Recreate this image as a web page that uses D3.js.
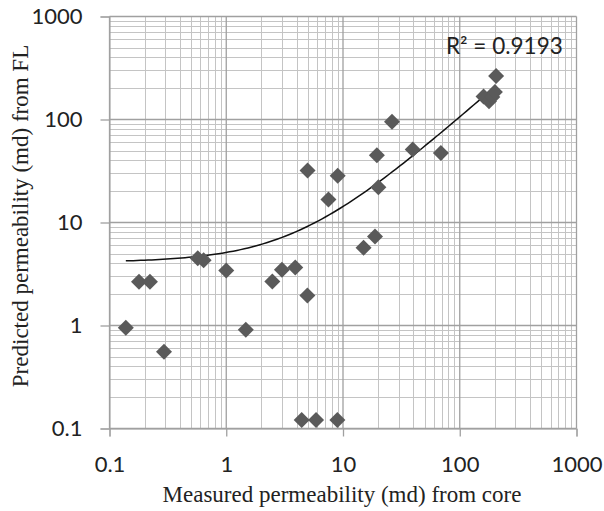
<!DOCTYPE html>
<html>
<head>
<meta charset="utf-8">
<script src="https://cdn.jsdelivr.net/npm/d3@7"></script>
<style>
  body { margin: 0; background: #fff; }
  .tick text { font-family: Lato, "Open Sans", sans-serif; font-size: 22px; fill: #222; }
  .title { font-family: "Liberation Serif", serif; font-size: 23px; fill: #222; }
</style>
</head>
<body>
<svg id="chart" width="604" height="511"></svg>
<script>
// measured (core) vs predicted (FL) permeability, md
var measured = [0.138, 0.179, 0.222, 0.293, 0.57, 0.64, 1.0, 1.47, 2.48, 3.0, 3.9, 4.95,
  4.97, 9.0, 7.5, 4.43, 5.88, 8.95, 19.5, 20.1, 18.8, 15.0, 39.6, 26.3, 68.9,
  160, 178, 190, 200, 205];
var predicted = [0.95, 2.66, 2.66, 0.555, 4.5, 4.3, 3.42, 0.91, 2.68, 3.48, 3.66, 1.96,
  32, 28.5, 16.7, 0.121, 0.121, 0.121, 45, 22, 7.3, 5.7, 51, 95, 47.4,
  167, 150, 165, 185, 265];
var tickValues = [0.1, 1, 10, 100, 1000];
// linear trendline: y = 1.02x + 4.1
var trendSlope = 1.02, trendIntercept = 4.1;
var r2Label = "R² = 0.9193";

var svg = d3.select("#chart");
var plotL = 109.5, plotR = 576.5, plotT = 16.5, plotB = 428.5;

var x = d3.scaleLog().domain([0.1, 1000]).range([plotL, plotR]);
var y = d3.scaleLog().domain([0.1, 1000]).range([plotB, plotT]);

// minor grid values 2..9 per decade
var minor = [];
[0.1, 1, 10, 100].forEach(function (d) {
  for (var k = 2; k <= 9; k++) minor.push(d * k);
});

var grid = svg.append("g");
grid.selectAll(".vmin").data(minor).join("line")
  .attr("x1", d => Math.round(x(d)) + 0.5).attr("x2", d => Math.round(x(d)) + 0.5)
  .attr("y1", plotT).attr("y2", plotB)
  .attr("stroke", "#c4c4c4").attr("stroke-width", 1);
grid.selectAll(".hmin").data(minor).join("line")
  .attr("y1", d => Math.round(y(d)) + 0.5).attr("y2", d => Math.round(y(d)) + 0.5)
  .attr("x1", plotL).attr("x2", plotR)
  .attr("stroke", "#c4c4c4").attr("stroke-width", 1);
grid.selectAll(".vmaj").data(tickValues).join("line")
  .attr("x1", d => x(d)).attr("x2", d => x(d))
  .attr("y1", plotT).attr("y2", plotB)
  .attr("stroke", "#a0a0a0").attr("stroke-width", 1.3);
grid.selectAll(".hmaj").data(tickValues).join("line")
  .attr("y1", d => y(d)).attr("y2", d => y(d))
  .attr("x1", plotL).attr("x2", plotR)
  .attr("stroke", "#a0a0a0").attr("stroke-width", 1.3);

// axes
var xAxis = d3.axisBottom(x).tickValues(tickValues).tickFormat(d3.format("~g")).tickSizeOuter(0).tickSize(8).tickPadding(20);
var yAxis = d3.axisLeft(y).tickValues(tickValues).tickFormat(d3.format("~g")).tickSizeOuter(0).tickSize(9).tickPadding(18);

svg.append("g").attr("transform", "translate(0," + plotB + ")").call(xAxis)
  .call(g => g.select(".domain").attr("stroke", "#a0a0a0"))
  .call(g => g.selectAll(".tick line").attr("stroke", "#a0a0a0").attr("stroke-width", 1.3));
svg.append("g").attr("transform", "translate(" + plotL + ",0)").call(yAxis)
  .call(g => g.select(".domain").attr("stroke", "#a0a0a0"))
  .call(g => g.selectAll(".tick line").attr("stroke", "#a0a0a0").attr("stroke-width", 1.3));

// linear trendline over the measured range (curved on log axes)
var xmin = d3.min(measured), xmax = d3.max(measured);
var trend = d3.range(0, 101).map(function (i) {
  var v = Math.pow(10, Math.log10(xmin) + (Math.log10(xmax) - Math.log10(xmin)) * i / 100);
  return [v, trendSlope * v + trendIntercept];
});
svg.append("path").datum(trend)
  .attr("fill", "none").attr("stroke", "#111").attr("stroke-width", 1.5)
  .attr("d", d3.line().x(d => x(d[0])).y(d => y(d[1])));

// diamonds
svg.append("g").selectAll("path").data(measured).join("path")
  .attr("transform", (d, i) => "translate(" + x(d) + "," + y(predicted[i]) + ")")
  .attr("d", "M0,-8L8,0L0,8L-8,0Z")
  .attr("fill", "#5a5a5a");

svg.append("text").attr("x", 446).attr("y", 54)
  .attr("font-family", "Lato, 'Open Sans', sans-serif").attr("font-size", 22.5).attr("fill", "#222")
  .text(r2Label);

svg.append("text").attr("class", "title").attr("x", (plotL + plotR) / 2 - 1).attr("y", 502)
  .attr("text-anchor", "middle").text("Measured permeability (md) from core");
svg.append("text").attr("class", "title")
  .attr("transform", "translate(28,216) rotate(-90)")
  .attr("text-anchor", "middle").text("Predicted permeability (md) from FL");
</script>
</body>
</html>
